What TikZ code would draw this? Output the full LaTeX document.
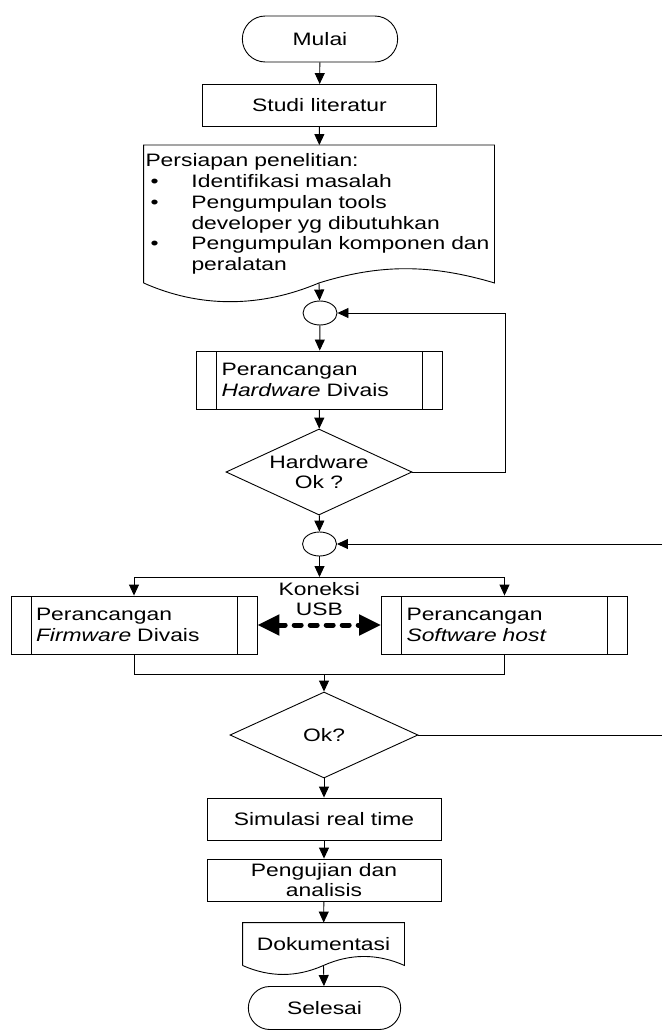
\documentclass[tikz,border=0pt]{standalone}
\usepackage{fontspec}
\setmainfont{Liberation Sans}[FakeStretch=1.27]
\usepackage{tikz}
\usepackage{xcolor}
\colorlet{linecolor}{black}
\usetikzlibrary{
  arrows.meta,
  shapes.misc,
  shapes,
  calc,
}

\begin{document}
\begin{tikzpicture}[x=1pt, y=-1pt, line width=0.9pt, >={Triangle[length=11pt,width=10pt]}]
	\tikzstyle{every node}=[font=\fontsize{18pt}{20.8pt}\selectfont]
	\tikzstyle{terminal}=[draw, shape=rounded rectangle, minimum width=162pt, minimum height=46pt]
	\tikzstyle{process}=[draw, shape=rectangle, minimum width=234pt, minimum height=42pt, inner ysep=1pt, align=center]
	\tikzstyle{subproc}=[draw, shape=rectangle, minimum height=58pt, text width=196pt, inner xsep=25pt, align=left,
		path picture={\draw ([xshift=20pt]path picture bounding box.north west) -- ([xshift=20pt]path picture bounding box.south west)
			([xshift=-20pt]path picture bounding box.north east) -- ([xshift=-20pt]path picture bounding box.south east);}]
	\tikzstyle{decision}=[draw, shape=diamond, aspect=2.16, inner sep=0pt, minimum width=186pt, minimum height=86pt, align=center]
	\tikzstyle{junction}=[draw, shape=ellipse, minimum width=34pt, minimum height=24pt, inner sep=0pt]
	\tikzstyle{usb}=[<->, >={Triangle[length=22pt,width=20pt]}, line width=5pt, dash pattern=on 7pt off 9pt, line cap=round]
	\useasboundingbox (0,0) rectangle (662,1032);
	% main column
	\node (mulai) [terminal] at (320,39) {Mulai};
	\node (studi) [process] at (319.5,105.5) {Studi literatur};
	\node (persiapan) [shape=rectangle, minimum width=350pt, minimum height=137pt, text width=347pt, inner xsep=1.5pt, align=left] at (319,214)
		{Persiapan penelitian:\\
		 \makebox[46pt][l]{\hspace{5pt}\textbullet}Identifikasi masalah\\
		 \makebox[46pt][l]{\hspace{5pt}\textbullet}Pengumpulan tools\\
		 \hspace*{46pt}developer yg dibutuhkan\\
		 \makebox[46pt][l]{\hspace{5pt}\textbullet}Pengumpulan komponen dan\\
		 \hspace*{46pt}peralatan};
	\node (c1) [junction] at (320,313) {};
	\node (hardware) [subproc] at (319.5,380) {Perancangan\\\textit{Hardware} Divais};
	\node (hwok) [decision] at (319,472) {Hardware\\Ok ?};
	\node (c2) [junction] at (319.5,544) {};
	% parallel design
	\node (firmware) [subproc] at (134,625) {Perancangan\\\textit{Firmware} Divais};
	\node (software) [subproc] at (504.5,625) {Perancangan\\\textit{Software host}};
	\node (ok) [decision, minimum width=188pt] at (324,735) {Ok?};
	\node (simulasi) [process] at (324,819) {Simulasi real time};
	\node (pengujian) [process] at (324,880) {Pengujian dan\\analisis};
	\node (doku) [shape=rectangle, minimum width=161pt, minimum height=42pt, inner ysep=1pt] at (323.5,944) {Dokumentasi};
	\node (selesai) [terminal, minimum width=159pt, minimum height=43pt] at (324.5,1008) {Selesai};
	% free ends
	\coordinate (fb1) at (505,472);
	\coordinate (loopTop) at (662,544);
	\coordinate (loopBot) at (662,735);
	\coordinate (split) at (319.5,577);
	\coordinate (merge) at (324,674);
	% document shapes
	\draw (persiapan.south west) -- (persiapan.north west) -- (persiapan.north east) -- (persiapan.south east)
		.. controls ($(persiapan.south east)+(-64,-19)$) and ($(persiapan.south)+(61,-19)$) .. (persiapan.south)
		.. controls ($(persiapan.south)+(-59,25)$) and ($(persiapan.south west)+(56,25)$) .. (persiapan.south west);
	\draw (doku.south west) -- (doku.north west) -- (doku.north east) -- (doku.south east)
		.. controls ($(doku.south east)+(-27,-12)$) and ($(doku.south)+(27,-12)$) .. (doku.south)
		.. controls ($(doku.south)+(-27,12)$) and ($(doku.south west)+(27,12)$) .. (doku.south west);
	% arrows
	\draw [->] (mulai) -- (studi);
	\draw [->] (studi) -- (persiapan);
	\draw [->] (persiapan.south) -- (c1);
	\draw [->] (c1) -- (hardware);
	\draw [->] (hardware) -- (hwok);
	\draw [->] (hwok) -- (c2);
	\draw [->] (hwok.east) -- (fb1) |- (c1);
	\draw [->] (loopTop) -- (c2);
	\draw [->] (c2) -- (split);
	\draw [->] (split) -| (firmware);
	\draw [->] (split) -| (software);
	\draw [usb] (firmware) -- node [above=3pt, align=center] {Koneksi\\USB} (software);
	\draw (firmware) |- (merge);
	\draw (software) |- (merge);
	\draw [->] (merge) -- (ok);
	\draw (ok) -- (loopBot);
	\draw [->] (ok) -- (simulasi);
	\draw [->] (simulasi) -- (pengujian);
	\draw [->] (pengujian) -- (doku);
	\draw [->] (doku.south) -- (selesai);
\end{tikzpicture}
\end{document}
